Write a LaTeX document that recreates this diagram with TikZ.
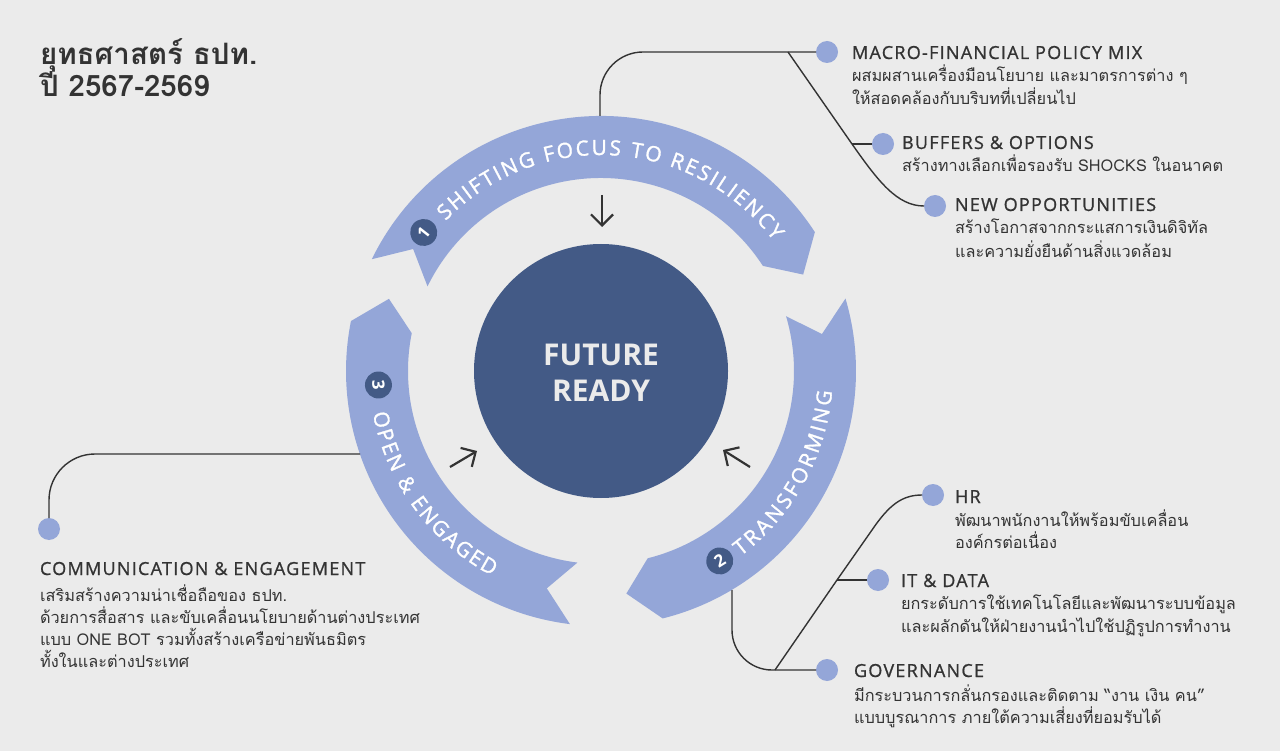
\documentclass[tikz,border=0pt]{standalone}
\usepackage{fontspec}
\setmainfont{Open Sans}
\newfontfamily\thaifont[Script=Thai]{Loma}
\newfontfamily\headfont[FakeBold=1,LetterSpace=7]{Open Sans}
\newfontfamily\arcfont[FakeBold=1.5]{Open Sans}
\usetikzlibrary{decorations.text,arrows.meta}
\definecolor{bgc}{HTML}{EBEBEB}
\definecolor{bandc}{HTML}{94A6D8}
\definecolor{darkc}{HTML}{435A86}
\definecolor{txtc}{HTML}{333333}
\definecolor{linec}{HTML}{333333}
\newcommand{\arcfmt}{\arcfont\fontsize{21}{21}\selectfont}
\newcommand{\ringarrow}[2]{%
  \fill[band] (#1:255) arc[start angle=#1, end angle=#2, radius=255]
    -- ({#2-7.5}:224) -- (#2:193)
    arc[start angle=#2, end angle=#1, radius=193] -- ({#1-7}:224) -- cycle;}
\begin{document}
\begin{tikzpicture}[x=1pt,y=1pt,
  every node/.style={inner sep=0pt, outer sep=0pt},
  band/.style={fill=bandc},
  badge/.style={circle, fill=darkc, text=white, minimum size=27pt, font=\bfseries\fontsize{17}{17}\selectfont},
  dot/.style={circle, fill=bandc, minimum size=22pt},
  conn/.style={draw=linec, line width=1.4pt},
  pointer/.style={draw=linec, line width=2.2pt, -{Straight Barb[length=11pt,width=22pt]}},
  head/.style={anchor=base west, text=txtc, font=\headfont\fontsize{18}{18}\selectfont},
  body/.style={anchor=base west, text=txtc, font=\thaifont\fontsize{16.3}{16.3}\selectfont},
  ttl/.style={anchor=base west, text=txtc, font=\thaifont\bfseries\fontsize{29.5}{29.5}\selectfont}
]
\fill[bgc] (0,0) rectangle (1280,-751);
\useasboundingbox (0,0) rectangle (1280,-751);

% title
\node[ttl] (t1) at (40,-65) {ยุทธศาสตร์ ธปท.};
\node[ttl] (t2) at (40,-97) {ปี 2567-2569};

\begin{scope}[shift={(601,-371)}]
  \ringarrow{154}{33}
  \ringarrow{16.5}{-76}
  \ringarrow{263}{168.7}
  \path[decorate, decoration={text along path, text align=fit to path, text color=white,
     text={|\arcfmt|SHIFTING FOCUS TO RESILIENCY}}]
     (136:216) arc[start angle=136, end angle=37, radius=216];
  \path[decorate, decoration={text along path, text align=fit to path, text color=white,
     text={|\arcfmt|TRANSFORMING}}]
     (-53:232) arc[start angle=-53, end angle=-5, radius=232];
  \path[decorate, decoration={text along path, text align=fit to path, text color=white,
     text={|\arcfmt|OPEN {\&} ENGAGED}}]
     (190.5:232) arc[start angle=190.5, end angle=242, radius=232];
  \node[badge, rotate=52] (n1) at (142:225) {1};
  \node[badge, rotate=32] (n2) at (-58:224) {2};
  \node[badge, rotate=-86.4] (n3) at (183.6:223) {3};
  \node[circle, fill=darkc, minimum size=254pt] (core) at (0,0) {};
  \node[text=bgc, align=center, font=\bfseries\fontsize{30}{36}\selectfont] (corelabel) at (0,-2) {FUTURE\\READY};
\end{scope}

% pointers to centre
\coordinate (p1a) at (602,-195); \coordinate (p1b) at (602,-227);
\coordinate (p2a) at (450,-467); \coordinate (p2b) at (477,-451);
\coordinate (p3a) at (750,-467); \coordinate (p3b) at (723,-450);
\draw[pointer] (p1a) -- (p1b);
\draw[pointer] (p2a) -- (p2b);
\draw[pointer] (p3a) -- (p3b);

% dots
\node[dot] (d1) at (827,-52) {};
\node[dot] (d2) at (883,-144) {};
\node[dot] (d3) at (935,-206) {};
\node[dot] (d4) at (933,-495) {};
\node[dot] (d5) at (878,-580) {};
\node[dot] (d6) at (827,-670) {};
\node[dot] (d7) at (49,-529) {};

% connectors top
\coordinate (t0) at (600,-116);
\coordinate (j1) at (788,-52);
\coordinate (j2) at (852,-144);
\coordinate (c1) at (878,-181);
\coordinate (c2) at (897,-206);
\draw[conn, rounded corners=43pt] (t0) |- (d1);
\draw[conn] (j1) -- (j2) .. controls (c1) and (c2) .. (d3.west);
\draw[conn] (j2) -- (d2);

% connectors bottom right
\coordinate (b0) at (732,-590);
\coordinate (j3) at (775,-670);
\coordinate (j4) at (837,-580);
\coordinate (j5) at (872,-530);
\coordinate (c3) at (889,-505);
\coordinate (c4) at (902,-495);
\draw[conn, rounded corners=40pt] (b0) |- (d6);
\draw[conn] (j3) -- (j4) -- (j5) .. controls (c3) and (c4) .. (d4.west);
\draw[conn] (j4) -- (d5);

% connector left
\coordinate (l0) at (360,-454);
\draw[conn, rounded corners=46pt] (l0) -| (d7);

% texts top right
\node[head] (h1) at (852,-59) {MACRO-FINANCIAL POLICY MIX};
\node[body] (b11) at (852,-82) {ผสมผสานเครื่องมือนโยบาย และมาตรการต่าง ๆ};
\node[body] (b12) at (852,-105) {ให้สอดคล้องกับบริบทที่เปลี่ยนไป};
\node[head] (h2) at (902,-149) {BUFFERS \& OPTIONS};
\node[body] (b21) at (902,-172) {สร้างทางเลือกเพื่อรองรับ SHOCKS ในอนาคต};
\node[head] (h3) at (955,-211) {NEW OPPORTUNITIES};
\node[body] (b31) at (955,-234) {สร้างโอกาสจากกระแสการเงินดิจิทัล};
\node[body] (b32) at (955,-258) {และความยั่งยืนด้านสิ่งแวดล้อม};

% texts bottom right
\node[head] (h4) at (955,-503) {HR};
\node[body] (b41) at (955,-526) {พัฒนาพนักงานให้พร้อมขับเคลื่อน};
\node[body] (b42) at (955,-548) {องค์กรต่อเนื่อง};
\node[head] (h5) at (901,-587) {IT \& DATA};
\node[body] (b51) at (901,-609) {ยกระดับการใช้เทคโนโลยีและพัฒนาระบบข้อมูล};
\node[body] (b52) at (901,-632) {และผลักดันให้ฝ่ายงานนำไปใช้ปฏิรูปการทำงาน};
\node[head] (h6) at (854,-677) {GOVERNANCE};
\node[body] (b61) at (854,-701) {มีกระบวนการกลั่นกรองและติดตาม “งาน เงิน คน”};
\node[body] (b62) at (854,-723) {แบบบูรณาการ ภายใต้ความเสี่ยงที่ยอมรับได้};

% texts left
\node[head] (h7) at (40,-575) {COMMUNICATION \& ENGAGEMENT};
\node[body] (b71) at (40,-601) {เสริมสร้างความน่าเชื่อถือของ ธปท.};
\node[body] (b72) at (40,-623) {ด้วยการสื่อสาร และขับเคลื่อนนโยบายด้านต่างประเทศ};
\node[body] (b73) at (40,-645) {แบบ ONE BOT รวมทั้งสร้างเครือข่ายพันธมิตร};
\node[body] (b74) at (40,-667) {ทั้งในและต่างประเทศ};
\end{tikzpicture}
\end{document}
